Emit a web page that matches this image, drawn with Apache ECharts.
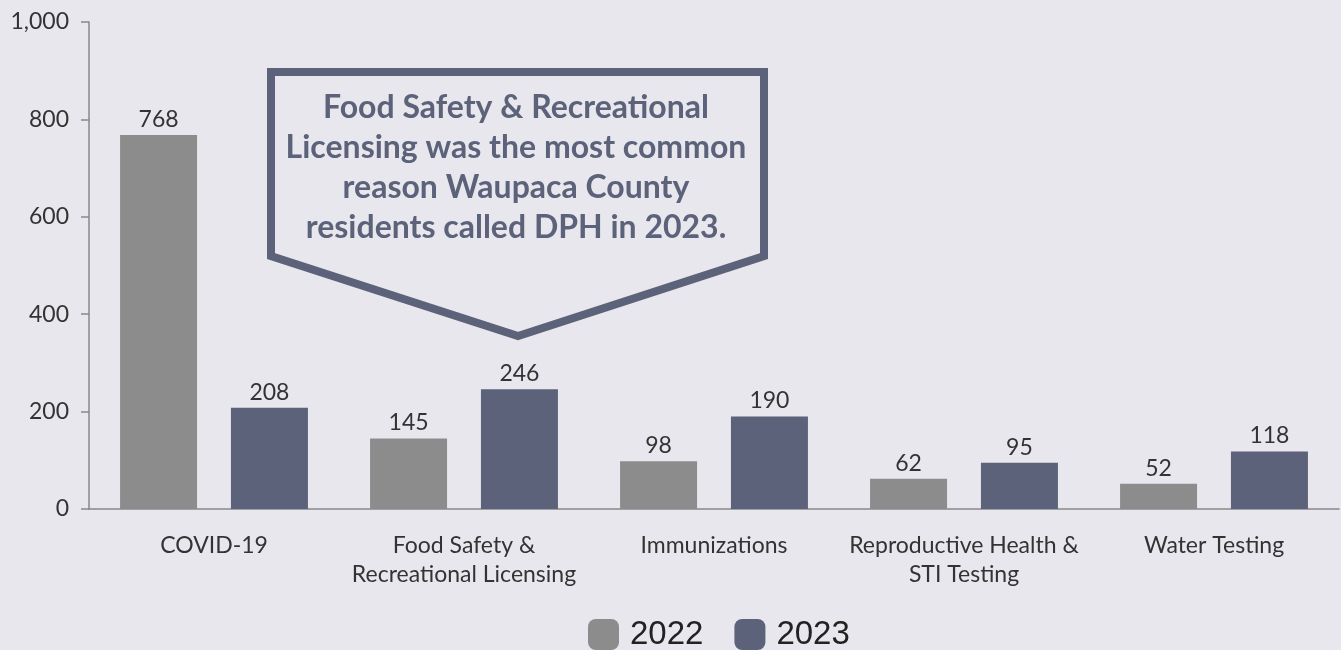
<!DOCTYPE html>
<html>
<head>
<meta charset="utf-8">
<script src="https://cdn.jsdelivr.net/npm/echarts@6/dist/echarts.min.js"></script>
<style>
  html, body { margin: 0; padding: 0; background: #e8e7ee; }
  #chart { width: 1341px; height: 650px; }
</style>
</head>
<body>
<div id="chart"></div>
<script>
// 数据
const categories = ['COVID-19', 'Food Safety &\nRecreational Licensing', 'Immunizations', 'Reproductive Health &\nSTI Testing', 'Water Testing']
const values2022 = [768, 145, 98, 62, 52]
const values2023 = [208, 246, 190, 95, 118]
const calloutLines = [
  'Food Safety & Recreational',
  'Licensing was the most common',
  'reason Waupaca County',
  'residents called DPH in 2023.'
]

const chart = echarts.init(document.getElementById('chart'))

const labelStyle = {
  show: true,
  position: 'top',
  distance: 4,
  color: '#333',
  fontFamily: 'Lato',
  fontSize: 23
}

const option = {
  backgroundColor: '#e8e7ee',
  animation: false,
  grid: { left: 89, right: 2, top: 22, bottom: 141 },
  legend: {
    top: 618,
    left: 588,
    padding: 0,
    icon: 'roundRect',
    itemWidth: 31,
    itemHeight: 31,
    itemGap: 31,
    textStyle: { fontFamily: 'Liberation Sans', fontSize: 33, color: '#222', padding: [0, 0, 0, 6] },
    data: ['2022', '2023']
  },
  xAxis: {
    type: 'category',
    data: categories,
    axisLine: { lineStyle: { color: '#888', width: 1.5 } },
    axisTick: { alignWithLabel: true, length: 8, lineStyle: { color: '#888', width: 1.5 } },
    axisLabel: {
      color: '#333',
      fontFamily: 'Lato',
      fontSize: 23,
      lineHeight: 29,
      margin: 22,
      interval: 0
    }
  },
  yAxis: {
    type: 'value',
    min: 0,
    max: 1000,
    interval: 200,
    axisLine: { show: true, lineStyle: { color: '#888', width: 1.5 } },
    axisTick: { show: true, length: 8, lineStyle: { color: '#888', width: 1.5 } },
    splitLine: { show: false },
    axisLabel: { color: '#333', fontFamily: 'Lato', fontSize: 23, margin: 20 }
  },
  series: [
    {
      name: '2022',
      type: 'bar',
      data: values2022,
      barWidth: 77,
      barGap: '44%',
      itemStyle: { color: '#8c8c8c' },
      label: labelStyle
    },
    {
      name: '2023',
      type: 'bar',
      data: values2023,
      barWidth: 77,
      itemStyle: { color: '#5c6279' },
      label: labelStyle
    }
  ],
  graphic: [
    {
      type: 'polygon',
      shape: { points: [[271, 72], [764, 72], [764, 256], [518, 336], [271, 256]] },
      style: { fill: '#e8e7ee', stroke: '#5c6279', lineWidth: 8, lineJoin: 'miter' },
      z: 10
    },
    {
      type: 'text',
      x: 516,
      y: 88,
      style: {
        text: calloutLines.join('\n'),
        align: 'center',
        verticalAlign: 'top',
        fill: '#5c6279',
        fontFamily: 'Lato',
        fontWeight: 'bold',
        fontSize: 32,
        lineHeight: 40
      },
      z: 11
    }
  ]
}

chart.setOption(option)
</script>
</body>
</html>
